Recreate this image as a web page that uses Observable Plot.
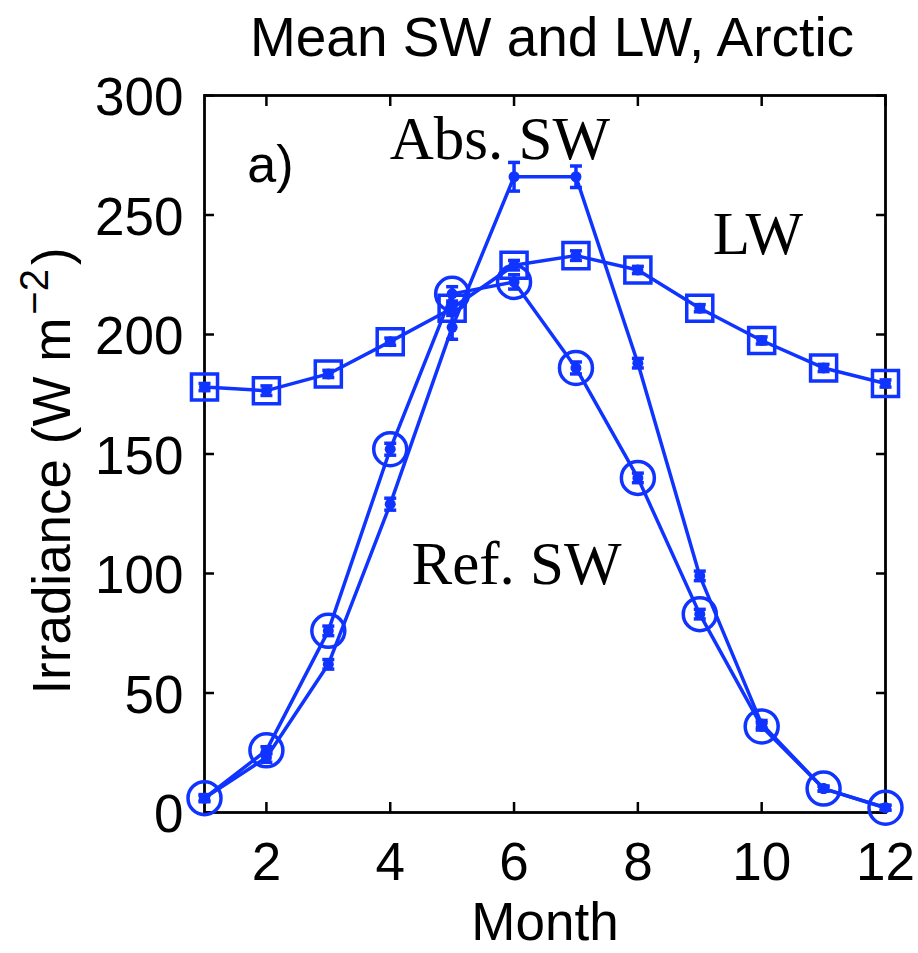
<!DOCTYPE html>
<html><head><meta charset="utf-8">
<script src="https://cdn.jsdelivr.net/npm/d3@7"></script>
<script src="https://cdn.jsdelivr.net/npm/@observablehq/plot@0.6"></script>
<style>body{margin:0;background:#fff}</style>
</head><body><div id="chart"></div>
<script>
const months   = [1, 2, 3, 4, 5, 6, 7, 8, 9, 10, 11, 12];
const absSW    = [6, 23, 62, 129, 203, 266, 266, 188, 99, 37, 10, 2];
const absSWErr = [1.5, 2, 2, 2.5, 5, 6, 4.5, 2, 2, 1.5, 1, 1];
const refSW    = [6, 26, 76, 152, 217, 222, 186, 140, 83, 36, 10, 2];
const refSWErr = [1, 1.5, 2, 2.5, 3, 3, 2.5, 2, 2, 1.5, 1, 1];
const lwMean   = [178, 176.5, 183.5, 197, 211, 229, 233, 227, 211, 197.5, 186, 179.5];
const lwErr    = [1.5, 2, 1.5, 1.5, 2, 2, 2, 1.5, 1.5, 1.5, 1.5, 1.5];
const xTicks = [2, 4, 6, 8, 10, 12];
const yTicks = [0, 50, 100, 150, 200, 250, 300];
const titleText = "Mean SW and LW, Arctic";
const xLabel = "Month";
const yLabel = "Irradiance (W m−2)";
const seriesLabels = ["Abs. SW", "LW", "Ref. SW"];
const seriesLabelMonth = [5.77, 9.94, 6.04];
const seriesLabelValue = [281.6, 241.8, 103.8];
const panelTag = "a)";

const blue = "#1034ff";
const mk = (vals, errs, name) => months.map((m, i) => ({month: m, value: vals[i], err: errs[i], series: name}));
const absData = mk(absSW, absSWErr, "Abs. SW");
const refData = mk(refSW, refSWErr, "Ref. SW");
const lwData = mk(lwMean, lwErr, "LW");
const all = [...absData, ...refData, ...lwData];
const labels = seriesLabels.map((t, i) => ({text: t, month: seriesLabelMonth[i], value: seriesLabelValue[i]}));

const capSymbol = {draw(ctx, size) { const h = Math.sqrt(size / Math.PI); ctx.moveTo(-h, 0); ctx.lineTo(h, 0); }};

const plot = Plot.plot({
  width: 918, height: 953,
  marginLeft: 204, marginRight: 33, marginTop: 95, marginBottom: 141,
  x: {domain: [1, 12], label: null},
  y: {domain: [0, 300], label: null},
  style: {fontFamily: "'Liberation Sans', Arial, sans-serif", fontSize: "53px", color: "black", background: "white"},
  marks: [
    Plot.axisX({ticks: xTicks, anchor: "bottom", tickSize: -10, tickFormat: () => "", strokeWidth: 2.5, label: null}),
    Plot.axisX({ticks: xTicks, anchor: "top", tickSize: -10, tickFormat: () => "", strokeWidth: 2.5, label: null}),
    Plot.axisY({ticks: yTicks, anchor: "left", tickSize: -10, tickFormat: () => "", strokeWidth: 2.5, label: null}),
    Plot.axisY({ticks: yTicks, anchor: "right", tickSize: -10, tickFormat: () => "", strokeWidth: 2.5, label: null}),
    Plot.axisX({ticks: xTicks, anchor: "bottom", tickSize: 0, tickPadding: 30, label: null, fontSize: 53}),
    Plot.axisY({ticks: yTicks, anchor: "left", tickSize: 0, tickPadding: 21, dy: 3, label: null, fontSize: 53}),
    Plot.frame({stroke: "black", strokeWidth: 2.8}),
    Plot.line(all, {x: "month", y: "value", z: "series", stroke: blue, strokeWidth: 3.5}),
    Plot.ruleX(all, {x: "month", y1: d => d.value - d.err, y2: d => d.value + d.err, stroke: blue, strokeWidth: 3.5}),
    Plot.dot(all, {x: "month", y: d => d.value - d.err, symbol: capSymbol, r: 6, stroke: blue, strokeWidth: 3.5}),
    Plot.dot(all, {x: "month", y: d => d.value + d.err, symbol: capSymbol, r: 6, stroke: blue, strokeWidth: 3.5}),
    Plot.dot(refData, {x: "month", y: "value", symbol: "circle", r: 16.5, stroke: blue, strokeWidth: 3.5, fill: "none"}),
    Plot.dot(lwData, {x: "month", y: "value", symbol: "square", r: 14.7, stroke: blue, strokeWidth: 3.5, fill: "none"}),
    Plot.dot(all, {x: "month", y: "value", r: 5.5, fill: blue, stroke: null}),
    Plot.text(labels, {x: "month", y: "value", text: "text", fontFamily: "'Liberation Serif', 'Times New Roman', serif", fontSize: 61, lineAnchor: "middle", textAnchor: "middle", fill: "black"}),
    Plot.text([panelTag], {x: () => 1.69, y: () => 270.7, text: d => d, textAnchor: "start", lineAnchor: "middle", fontSize: 52, fill: "black"}),
    Plot.text([titleText], {frameAnchor: "top", text: d => d, dx: 7, dy: -57.6, lineAnchor: "middle", fontSize: 55, fill: "black"}),
    Plot.text([xLabel], {frameAnchor: "bottom", text: d => d, dy: 111, lineAnchor: "middle", fontSize: 53, fill: "black"}),
    Plot.text([yLabel], {frameAnchor: "left", text: d => d, rotate: -90, dx: -151, dy: 17, lineAnchor: "middle", textAnchor: "middle", fontSize: 53, fill: "black"})
  ]
});
document.getElementById("chart").appendChild(plot);

// superscript for the unit in the y label
plot.querySelectorAll("text").forEach(t => {
  if (t.textContent === yLabel) {
    const ns = "http://www.w3.org/2000/svg";
    t.textContent = "";
    const parts = [
      {s: "Irradiance (W m", attrs: {}},
      {s: "−2", attrs: {"font-size": 40, dy: -22, dx: 3}},
      {s: ")", attrs: {dy: 22, dx: 4}}
    ];
    parts.forEach(p => {
      const ts = document.createElementNS(ns, "tspan");
      ts.textContent = p.s;
      for (const k in p.attrs) ts.setAttribute(k, p.attrs[k]);
      t.appendChild(ts);
    });
  }
});
</script>
</body></html>
